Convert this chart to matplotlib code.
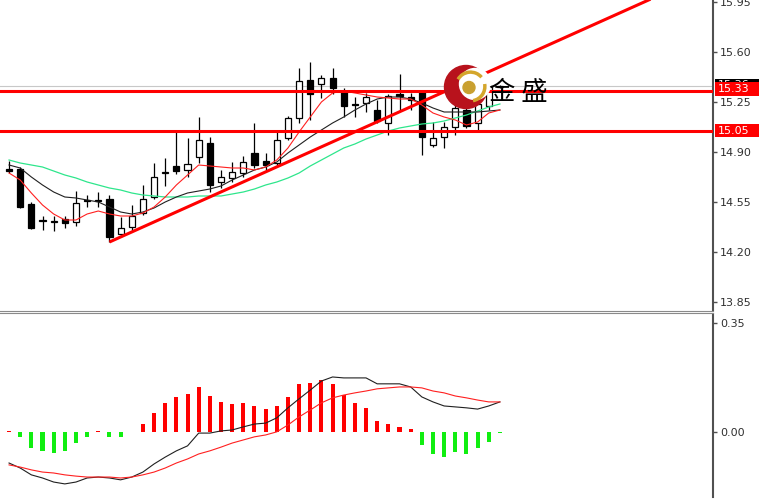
import numpy as np
import matplotlib
matplotlib.use("Agg")
import matplotlib.pyplot as plt
from matplotlib.patches import Rectangle, Circle, Arc
from matplotlib.lines import Line2D

# candles (open, high, low, close)
opens = [14.781, 14.781, 14.536, 14.424, 14.410, 14.431, 14.410, 14.564, 14.557, 14.571,
         14.326, 14.375, 14.473, 14.585, 14.753, 14.802, 14.774, 14.865, 14.963, 14.690,
         14.718, 14.753, 14.893, 14.837, 14.823, 14.998, 15.138, 15.404, 15.376, 15.418,
         15.320, 15.236, 15.243, 15.194, 15.103, 15.306, 15.285, 15.320, 14.949, 15.005,
         15.075, 15.194, 15.103, 15.222, 15.358]
highs = [14.837, 14.795, 14.550, 14.452, 14.452, 14.452, 14.627, 14.599, 14.620, 14.599,
         14.445, 14.529, 14.669, 14.823, 14.858, 15.040, 14.998, 15.145, 15.005, 14.774,
         14.830, 14.872, 15.103, 14.893, 15.040, 15.152, 15.488, 15.530, 15.439, 15.488,
         15.348, 15.285, 15.313, 15.264, 15.306, 15.446, 15.313, 15.327, 15.110, 15.110,
         15.243, 15.229, 15.292, 15.390, 15.370]
lows = [14.753, 14.508, 14.361, 14.354, 14.347, 14.368, 14.382, 14.515, 14.515, 14.270,
        14.305, 14.347, 14.459, 14.571, 14.662, 14.746, 14.725, 14.823, 14.620, 14.648,
        14.690, 14.725, 14.788, 14.774, 14.809, 14.984, 15.103, 15.124, 15.278, 15.306,
        15.145, 15.145, 15.180, 15.103, 15.019, 15.194, 15.194, 14.879, 14.935, 14.928,
        15.019, 15.068, 15.040, 15.194, 15.350]
closes = [14.767, 14.515, 14.368, 14.417, 14.417, 14.403, 14.543, 14.557, 14.564, 14.305,
          14.368, 14.452, 14.571, 14.725, 14.760, 14.767, 14.816, 14.984, 14.669, 14.725,
          14.760, 14.830, 14.809, 14.809, 14.984, 15.138, 15.397, 15.306, 15.418, 15.348,
          15.222, 15.229, 15.285, 15.117, 15.292, 15.292, 15.264, 15.005, 14.998, 15.075,
          15.208, 15.082, 15.236, 15.362, 15.362]

# moving averages
ma_red = [14.753, 14.704, 14.613, 14.529, 14.466, 14.424, 14.424, 14.466, 14.487, 14.466,
          14.452, 14.452, 14.473, 14.515, 14.585, 14.669, 14.739, 14.809, 14.802, 14.795,
          14.788, 14.788, 14.774, 14.795, 14.844, 14.928, 15.040, 15.145, 15.250, 15.313,
          15.327, 15.313, 15.299, 15.285, 15.278, 15.271, 15.271, 15.229, 15.173, 15.145,
          15.124, 15.089, 15.110, 15.173, 15.194]
ma_black = [14.809, 14.788, 14.725, 14.669, 14.620, 14.585, 14.578, 14.564, 14.550, 14.515,
            14.480, 14.466, 14.480, 14.508, 14.550, 14.585, 14.613, 14.627, 14.641, 14.662,
            14.704, 14.739, 14.774, 14.795, 14.830, 14.893, 14.949, 15.005, 15.054, 15.103,
            15.145, 15.194, 15.236, 15.271, 15.285, 15.285, 15.271, 15.243, 15.208, 15.180,
            15.180, 15.180, 15.180, 15.187, 15.194]
ma_green = [14.844, 14.823, 14.809, 14.795, 14.767, 14.739, 14.718, 14.690, 14.669, 14.648,
            14.634, 14.613, 14.599, 14.592, 14.585, 14.585, 14.585, 14.592, 14.592, 14.592,
            14.606, 14.620, 14.641, 14.669, 14.690, 14.718, 14.753, 14.802, 14.844, 14.886,
            14.928, 14.956, 14.991, 15.019, 15.047, 15.068, 15.082, 15.096, 15.103, 15.117,
            15.138, 15.159, 15.187, 15.215, 15.236]

# MACD panel
macd = [-0.098, -0.114, -0.136, -0.146, -0.159, -0.165, -0.159, -0.146, -0.143, -0.146,
        -0.152, -0.143, -0.127, -0.101, -0.079, -0.059, -0.043, -0.002, -0.002, 0.005,
        0.008, 0.018, 0.027, 0.030, 0.047, 0.079, 0.108, 0.136, 0.165, 0.178,
        0.175, 0.175, 0.175, 0.156, 0.156, 0.156, 0.146, 0.114, 0.098, 0.085,
        0.082, 0.079, 0.075, 0.085, 0.098]
signal = [-0.104, -0.111, -0.120, -0.127, -0.130, -0.136, -0.140, -0.143, -0.143, -0.143,
          -0.146, -0.143, -0.136, -0.127, -0.114, -0.098, -0.085, -0.069, -0.059, -0.047,
          -0.034, -0.024, -0.014, -0.008, 0.002, 0.024, 0.050, 0.072, 0.095, 0.111,
          0.120, 0.127, 0.133, 0.140, 0.143, 0.146, 0.146, 0.143, 0.133, 0.127,
          0.117, 0.111, 0.104, 0.098, 0.098]
hist = [0.006, -0.016, -0.050, -0.060, -0.066, -0.060, -0.035, -0.016, 0.006, -0.016,
        -0.016, 0.003, 0.026, 0.064, 0.093, 0.114, 0.124, 0.145, 0.117, 0.097,
        0.090, 0.093, 0.084, 0.075, 0.084, 0.113, 0.157, 0.160, 0.167, 0.157,
        0.120, 0.093, 0.077, 0.036, 0.026, 0.016, 0.010, -0.039, -0.070, -0.080,
        -0.064, -0.070, -0.051, -0.029, -0.003]

price_ticks = [13.85, 14.20, 14.55, 14.90, 15.25, 15.60, 15.95]
macd_ticks = [0.00, 0.35]
levels = [15.33, 15.05]
bid = 15.362
trend_x = [9, 57.5]
trend_y = [14.27, 15.97]

W, H = 759, 499
fig = plt.figure(figsize=(W / 100, H / 100), dpi=100)
fig.patch.set_facecolor("white")

axw = 713 / W
ax = fig.add_axes([0, (H - 310) / H, axw, 310 / H])
ax2 = fig.add_axes([0, (H - 497) / H, axw, (497 - 314) / H])

x = np.arange(len(closes))
xlim = (-0.81, 63.1)

# candles
o = np.array(opens); c = np.array(closes)
ax.vlines(x, lows, highs, color="black", lw=0.9, zorder=2)
bottoms = np.minimum(o, c)
heights = np.maximum(np.abs(c - o), 0.002)
faces = ["black" if cc < oo else "white" for oo, cc in zip(o, c)]
ax.bar(x, heights, bottom=bottoms, width=0.55, color=faces, edgecolor="black", lw=0.9, zorder=2)

ax.plot(x, ma_green, color="#2ee68c", lw=0.9, zorder=3)
ax.plot(x, ma_black, color="#202020", lw=0.8, zorder=3)
ax.plot(x, ma_red, color="#ff2020", lw=0.8, zorder=3)

ax.axhline(bid, color="#c8c8c8", lw=0.8, zorder=1)
for lv in levels:
    ax.axhline(lv, color="#ff0000", lw=2.2, zorder=4)
ax.plot(trend_x, trend_y, color="#ff0000", lw=2.2, zorder=4, solid_capstyle="butt")

ax.set_xlim(*xlim)
ax.set_ylim(13.794, 15.964)

for a in (ax, ax2):
    for s in ("left", "top", "bottom"):
        a.spines[s].set_visible(False)
    a.spines["right"].set_color("#505050")
    a.spines["right"].set_linewidth(1.5)
    a.set_xticks([])
    a.yaxis.tick_right()
    a.tick_params(axis="y", direction="out", length=3, width=1, color="#505050",
                  labelsize=8, labelcolor="#303030", pad=2)
    a.set_facecolor("none")

ax.set_yticks(price_ticks)
ax.set_yticklabels(["%.2f" % t for t in price_ticks])

# price labels on the axis (bid label sits behind the 15.33 label)
ytr = ax.get_yaxis_transform()
lx0 = 715 / 713
lw_ = (W - 715) / 713
ax.add_patch(Rectangle((lx0, bid - 0.040), lw_, 0.092, transform=ytr, clip_on=False,
                       facecolor="black", edgecolor="none", zorder=5))
ax.text(lx0 + 0.004, bid + 0.006, "%.2f" % bid, transform=ytr, color="white", fontsize=8,
        va="center", ha="left", clip_on=False, zorder=6)
for lv in levels:
    yc = lv + 0.012 if lv == 15.33 else lv
    ax.add_patch(Rectangle((lx0, yc - 0.047), lw_, 0.094, transform=ytr, clip_on=False,
                           facecolor="#ff0000", edgecolor="none", zorder=7))
    ax.text(lx0 + 0.004, yc, "%.2f" % lv, transform=ytr, color="white", fontsize=8,
            va="center", ha="left", clip_on=False, zorder=8)

# MACD panel
hcol = ["#ff0000" if v >= 0 else "#11ee11" for v in hist]
ax2.bar(x, hist, width=0.36, color=hcol, zorder=2)
ax2.plot(x, macd, color="#202020", lw=0.8, zorder=3)
ax2.plot(x, signal, color="#ff2020", lw=0.8, zorder=3)
ax2.set_xlim(*xlim)
ax2.set_ylim(-0.207, 0.380)
ax2.set_yticks(macd_ticks)
ax2.set_yticklabels(["%.2f" % t for t in macd_ticks])

# separator between panels
for yy in (310.5, 313):
    fig.add_artist(Line2D([0, axw], [1 - yy / H] * 2, color="#8a8a8a", lw=0.8))

# logo
lax = fig.add_axes([(466 - 25) / W, 1 - (87 + 25) / H, 50 / W, 50 / H])
lax.set_xlim(-1, 1); lax.set_ylim(-1, 1); lax.axis("off")
lax.add_patch(Circle((0, 0), 0.86, color="#b8121c"))
lax.add_patch(Circle((0.36, 0.12), 0.62, color="white"))
lax.add_patch(Arc((0.18, 0.02), 1.15, 1.15, theta1=40, theta2=150, color="#d4a62c", lw=2.5))
lax.add_patch(Arc((0.18, 0.02), 1.15, 1.15, theta1=-80, theta2=10, color="#d4a62c", lw=2.5))
lax.add_patch(Circle((0.12, -0.02), 0.24, color="#c9a030"))

fig.text(489 / W, 1 - 92 / H, "金 盛", fontsize=19, color="black", va="center", ha="left",
         family=["Noto Sans CJK SC", "DejaVu Sans"])

fig.savefig("out.png", dpi=100, facecolor="white")
